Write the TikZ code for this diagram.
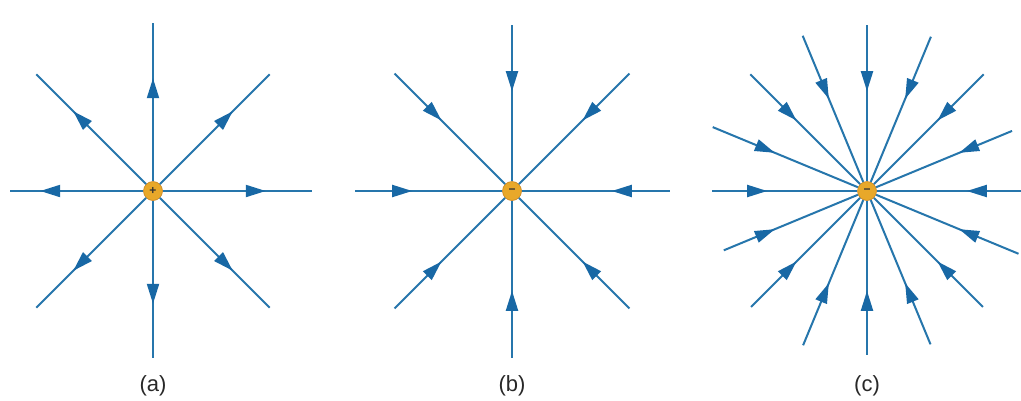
\documentclass[tikz,border=0pt]{standalone}
\usepackage{fontspec}
\setmainfont{Liberation Sans}
\usetikzlibrary{arrows.meta,decorations.markings,calc}
\definecolor{fieldblue}{RGB}{38,118,172}
\definecolor{arrowblue}{RGB}{24,104,165}
\definecolor{chargeorange}{RGB}{232,168,42}
\definecolor{chargeedge}{RGB}{200,130,30}
\definecolor{labelgray}{RGB}{40,40,40}
\tikzset{
  fl/.style={line width=2pt, draw=fieldblue},
  outarr/.style={fl, postaction={decorate}, decoration={markings,
      mark=at position 103pt with {\arrow[arrowblue]{Triangle[length=20pt,width=12pt]}}}},
  inarr/.style={fl, postaction={decorate}, decoration={markings,
      mark=at position 90pt with {\arrowreversed[arrowblue]{Triangle[length=20pt,width=12pt]}}}},
  charge/.style={circle, fill=chargeorange, draw=chargeedge, line width=0.6pt,
      minimum size=19pt, inner sep=0pt, text=black!80,
      font=\fontsize{12}{12}\selectfont\bfseries},
  caption/.style={font=\fontsize{22}{26}\selectfont, text=labelgray}
}
\begin{document}
\begin{tikzpicture}[x=1pt,y=-1pt]
\useasboundingbox[fill=white] (0,0) rectangle (1021,400);
% ---------- (a) positive charge ----------
\node[charge] (qa) at (153,191) {+};
\foreach \ang/\len [count=\i] in {0/159,45/165,90/167,135/165,180/143,225/165,270/168,315/165}{
  \coordinate (ae\i) at ($(qa.center)+(\ang:\len)$);
  \draw[outarr] (qa) -- (ae\i);
}
\node[caption] (la) at (153,386) {(a)};
% ---------- (b) negative charge, 8 lines ----------
\node[charge] (qb) at (512,191) {−};
\foreach \ang/\len [count=\i] in {0/158,45/166,90/167,135/166,180/157,225/166,270/166,315/166}{
  \coordinate (be\i) at ($(qb.center)+(\ang:\len)$);
  \draw[inarr] (qb) -- (be\i);
}
\node[caption] (lb) at (512,386) {(b)};
% ---------- (c) negative charge, 16 lines ----------
\node[charge] (qc) at (867,191) {−};
\foreach \ang/\len [count=\i] in {0/160,22.5/164,45/164,67.5/166,90/164,112.5/167,135/164,157.5/155,180/155,202.5/167,225/165,247.5/168,270/166,292.5/167,315/165,337.5/157}{
  \coordinate (ce\i) at ($(qc.center)+(\ang:\len)$);
  \draw[inarr] (qc) -- (ce\i);
}
\node[caption] (lc) at (867,386) {(c)};
\end{tikzpicture}
\end{document}
